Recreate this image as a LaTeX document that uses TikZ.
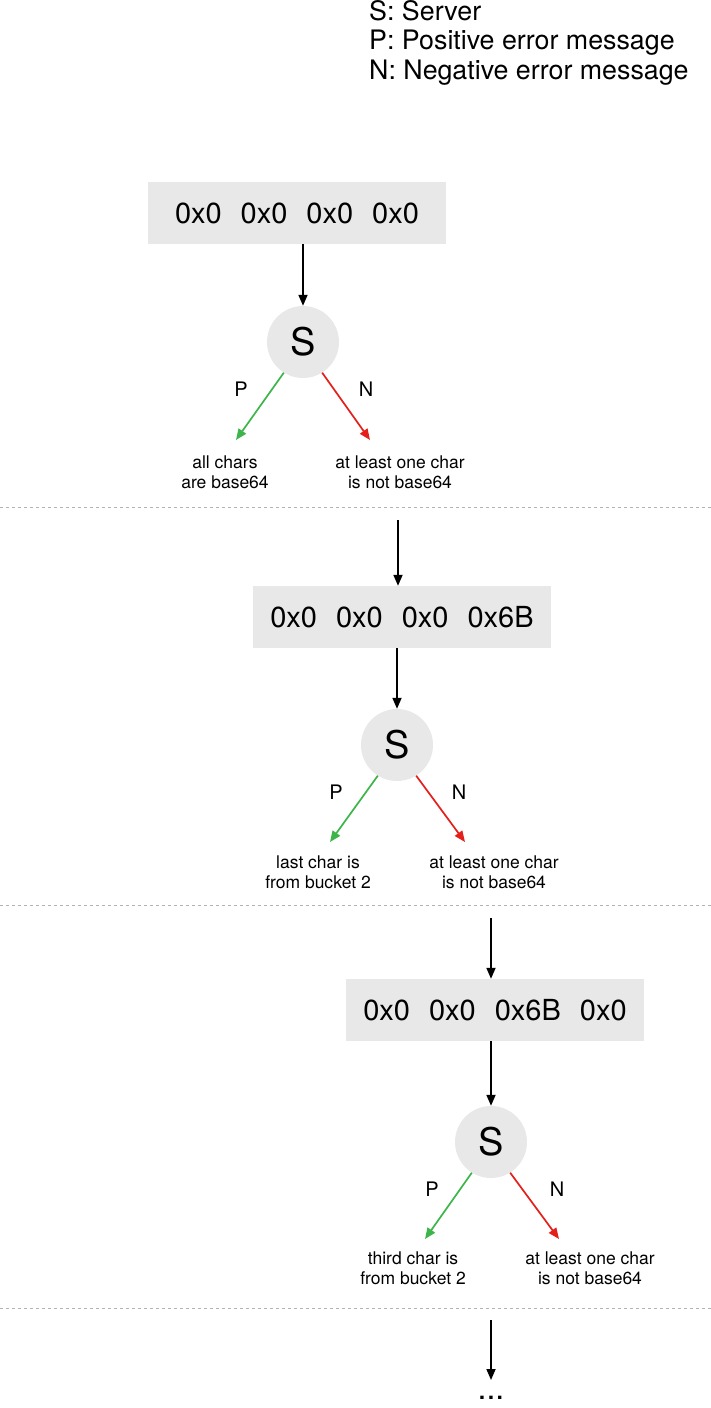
\documentclass[tikz,border=0pt]{standalone}
\usepackage{fontspec}
\setmainfont{TeX Gyre Heros}
\usetikzlibrary{arrows.meta}
\definecolor{boxgray}{HTML}{E8E8E8}
\definecolor{pgreen}{HTML}{3DB54A}
\definecolor{nred}{HTML}{E3201B}
\newcommand{\gp}{\hspace{19pt}}
\tikzset{
  x=1pt,y=-1pt,
  valbox/.style={fill=boxgray,minimum width=298pt,minimum height=62pt,font=\fontsize{29}{32}\selectfont},
  srv/.style={circle,fill=boxgray,minimum size=72pt,inner sep=0pt,font=\fontsize{38}{40}\selectfont},
  arr/.style={-{Triangle[length=11pt,width=9pt]},line width=1.7pt},
  parr/.style={arr,pgreen},
  narr/.style={arr,nred},
  lbl/.style={font=\fontsize{20}{22}\selectfont},
  res/.style={font=\fontsize{17.5}{20}\selectfont,align=center},
  sep/.style={gray!60,dashed,line width=0.8pt},
  leg/.style={font=\fontsize{26.8}{29.5}\selectfont,align=left,anchor=north west}
}
\begin{document}
\begin{tikzpicture}
\useasboundingbox (0,0) rectangle (711,1408);
\node[leg,inner sep=0pt] (legend) at (369,0) {S: Server\\P: Positive error message\\N: Negative error message};
% stage 1
\node[valbox] (b1) at (297,213) {0x0\gp0x0\gp0x0\gp0x0};
\node[srv] (s1) at (303,342) {S};
\draw[arr] (b1.south -| s1) -- (s1.north);
\coordinate (p1) at (236,440); \coordinate (n1) at (370,440);
\draw[parr] (s1.238) -- (p1);
\draw[narr] (s1.302) -- (n1);
\node[lbl] (pl1) at (241,389) {P};
\node[lbl] (nl1) at (366,389) {N};
\node[res] (r1a) at (225,472) {all chars\\are base64};
\node[res] (r1b) at (400,472) {at least one char\\is not base64};
\coordinate (d1a) at (0,507); \coordinate (d1b) at (711,507);
\draw[sep] (d1a) -- (d1b);
% stage 2
\coordinate (t2) at (398,520);
\node[valbox] (b2) at (402,617) {0x0\gp0x0\gp0x0\gp0x6B};
\node[srv] (s2) at (397,745) {S};
\draw[arr] (t2) -- (t2 |- b2.north);
\draw[arr] (b2.south -| s2) -- (s2.north);
\coordinate (p2) at (330,842); \coordinate (n2) at (465,842);
\draw[parr] (s2.238) -- (p2);
\draw[narr] (s2.302) -- (n2);
\node[lbl] (pl2) at (336,792) {P};
\node[lbl] (nl2) at (459,792) {N};
\node[res] (r2a) at (318,872) {last char is\\from bucket 2};
\node[res] (r2b) at (494,872) {at least one char\\is not base64};
\coordinate (d2a) at (0,905); \coordinate (d2b) at (711,905);
\draw[sep] (d2a) -- (d2b);
% stage 3
\coordinate (t3) at (491,918);
\node[valbox] (b3) at (495,1010) {0x0\gp0x0\gp0x6B\gp0x0};
\node[srv] (s3) at (491,1142) {S};
\draw[arr] (t3) -- (t3 |- b3.north);
\draw[arr] (b3.south -| s3) -- (s3.north);
\coordinate (p3) at (425,1239); \coordinate (n3) at (559,1239);
\draw[parr] (s3.238) -- (p3);
\draw[narr] (s3.302) -- (n3);
\node[lbl] (pl3) at (432,1189) {P};
\node[lbl] (nl3) at (557,1189) {N};
\node[res] (r3a) at (413,1268) {third char is\\from bucket 2};
\node[res] (r3b) at (590,1268) {at least one char\\is not base64};
\coordinate (d3a) at (0,1308); \coordinate (d3b) at (711,1308);
\draw[sep] (d3a) -- (d3b);
% final
\coordinate (t4) at (491,1320);
\node[font=\fontsize{32}{32}\selectfont,inner sep=0pt] (dots) at (491,1398) {...};
\draw[arr] (t4) -- (491,1380);
\end{tikzpicture}
\end{document}
